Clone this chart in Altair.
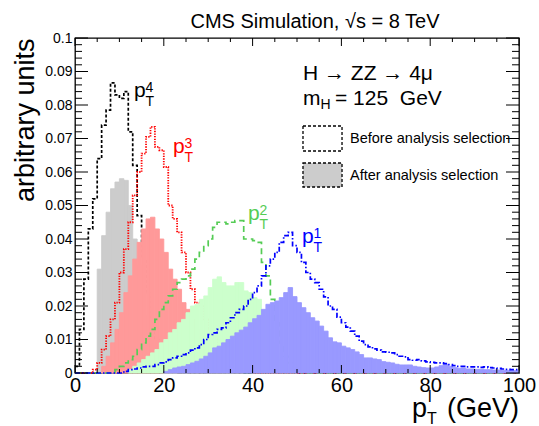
import altair as alt
import pandas as pd

FONT = "Liberation Sans"
N_BINS = 100          # 1 GeV bins from 0 to 100 GeV
X_MAX = 100.0

# ---------------- histogram contents (first non-empty bin, values) ----------------
pt4_before_first = 0
pt4_before = [0.002, 0.013, 0.028, 0.043, 0.052, 0.064, 0.074, 0.0785, 0.0866, 0.083,
              0.082, 0.084, 0.072, 0.062, 0.047, 0.034, 0.024, 0.016, 0.010, 0.006,
              0.004, 0.002, 0.001]
pt4_after_first = 5
pt4_after = [0.031, 0.041, 0.048, 0.055, 0.057, 0.058, 0.0575, 0.050, 0.040, 0.032,
             0.024, 0.017, 0.011, 0.007, 0.004, 0.003, 0.002, 0.001]

pt3_before_first = 4
pt3_before = [0.001, 0.003, 0.007, 0.011, 0.016, 0.021, 0.030, 0.037, 0.045, 0.053,
              0.060, 0.0655, 0.0705, 0.0735, 0.0675, 0.0665, 0.0615,
              0.050, 0.046, 0.042, 0.036, 0.030, 0.025, 0.021, 0.020,
              0.016, 0.013, 0.010, 0.008, 0.006, 0.005, 0.004, 0.003, 0.002, 0.0015, 0.001]
pt3_after_first = 6
pt3_after = [0.002, 0.005, 0.009, 0.013, 0.018, 0.024, 0.029, 0.034, 0.039, 0.043,
             0.046, 0.0465, 0.043, 0.040, 0.036, 0.031, 0.028, 0.025, 0.021, 0.019,
             0.016, 0.013, 0.011, 0.009, 0.007, 0.006, 0.005, 0.004, 0.003, 0.002,
             0.0015, 0.001]

pt2_before_first = 9
pt2_before = [0.001, 0.002, 0.003, 0.004, 0.005, 0.007, 0.009, 0.011, 0.013, 0.016,
              0.019, 0.021, 0.023, 0.025, 0.027, 0.028, 0.029, 0.031, 0.034, 0.036,
              0.038, 0.040, 0.0435, 0.045, 0.045, 0.0445, 0.045, 0.0455, 0.0455,
              0.040, 0.040, 0.0395, 0.039, 0.033, 0.029, 0.022, 0.015, 0.009, 0.005,
              0.003, 0.002, 0.001]
pt2_after_first = 12
pt2_after = [0.001, 0.002, 0.003, 0.004, 0.005, 0.006, 0.007, 0.009, 0.010,
             0.012, 0.013, 0.015, 0.016, 0.018, 0.020, 0.0205, 0.022, 0.023, 0.0255,
             0.028, 0.0287, 0.027, 0.026, 0.026, 0.027, 0.027, 0.0245, 0.024, 0.0225,
             0.022, 0.017, 0.013, 0.009, 0.006, 0.004, 0.003, 0.002, 0.001]

pt1_before_first = 11
pt1_before = [0.0005, 0.001, 0.0012, 0.0015, 0.0018, 0.002, 0.002, 0.0025, 0.003, 0.0033,
              0.004, 0.0045, 0.005, 0.0055, 0.006, 0.0068, 0.0075, 0.0085, 0.010, 0.0115,
              0.012, 0.013, 0.0135, 0.015, 0.0165, 0.018, 0.019, 0.020, 0.022, 0.024,
              0.026, 0.029, 0.032, 0.034, 0.036, 0.039, 0.041, 0.042, 0.038, 0.036,
              0.033, 0.030, 0.028, 0.027, 0.025, 0.0227, 0.020, 0.019, 0.0167, 0.015,
              0.0137, 0.0125, 0.011, 0.0095, 0.0085, 0.0078, 0.0072, 0.0068, 0.0063, 0.0062,
              0.006, 0.0055, 0.005, 0.0048, 0.004, 0.0038, 0.004, 0.0036, 0.0033, 0.0032,
              0.003, 0.003, 0.0028, 0.0025, 0.0022, 0.002, 0.002, 0.0018, 0.0018, 0.0018,
              0.0017, 0.0018, 0.0016, 0.0015, 0.0014, 0.0012, 0.0011, 0.001, 0.001]
pt1_after_first = 20
pt1_after = [0.0005, 0.001, 0.0015, 0.0018, 0.002, 0.0025, 0.003, 0.0035, 0.0042, 0.005,
             0.006, 0.0075, 0.008, 0.009, 0.010, 0.011, 0.012, 0.0128, 0.0137, 0.015,
             0.0162, 0.0172, 0.019, 0.0205, 0.021, 0.0215, 0.0225, 0.024, 0.0255, 0.0228,
             0.021, 0.0195, 0.018, 0.0165, 0.0155, 0.014, 0.0125, 0.0105, 0.0093, 0.009,
             0.008, 0.0075, 0.007, 0.0063, 0.0055, 0.0045, 0.0045, 0.0042, 0.004, 0.0034,
             0.0032, 0.003, 0.0026, 0.0024, 0.0024, 0.0024, 0.002, 0.0018, 0.0016, 0.0015,
             0.0015, 0.0018, 0.0022, 0.0025, 0.002, 0.0016, 0.0014, 0.0015, 0.0012, 0.0012,
             0.0011, 0.0011, 0.001, 0.001, 0.0009, 0.0009, 0.0008, 0.0008, 0.0007, 0.0007]

# ---------------- axis ticks / labels ----------------
x_label_values = [0, 20, 40, 60, 80, 100]
x_minor_values = [5, 10, 15, 25, 30, 35, 45, 50, 55, 65, 70, 75, 85, 90, 95]
y_label_values = [0, 0.01, 0.02, 0.03, 0.04, 0.05, 0.06, 0.07, 0.08, 0.09, 0.1]
y_minor_values = [round(m * 0.002, 3) for m in range(51) if m % 5 != 0]

# ---------------- tables ----------------
series_defs = [
    ("pt4_before", pt4_before_first, pt4_before),
    ("pt4_after", pt4_after_first, pt4_after),
    ("pt3_before", pt3_before_first, pt3_before),
    ("pt3_after", pt3_after_first, pt3_after),
    ("pt2_before", pt2_before_first, pt2_before),
    ("pt2_after", pt2_after_first, pt2_after),
    ("pt1_before", pt1_before_first, pt1_before),
    ("pt1_after", pt1_after_first, pt1_after),
]
bw = X_MAX / N_BINS
outline_rows, bin_rows = [], []
for name, first, vals in series_defs:
    arr = [0.0] * N_BINS
    for i, v in enumerate(vals):
        arr[first + i] = v
    k = 0
    for i in range(N_BINS):
        outline_rows.append({"series": name, "k": k, "x": i * bw, "y": arr[i]}); k += 1
        outline_rows.append({"series": name, "k": k, "x": (i + 1) * bw, "y": arr[i]}); k += 1
        if arr[i] > 0:
            bin_rows.append({"series": name, "x": i * bw, "x2": (i + 1) * bw, "y": arr[i]})
outline = pd.DataFrame(outline_rows)
bins = pd.DataFrame(bin_rows)

W, H = 444, 335

x_axis = alt.Axis(values=x_label_values, ticks=False, domain=False, grid=False,
                  labelFontSize=20, labelPadding=2, labelFlush=False, title=None)
y_axis = alt.Axis(values=y_label_values, labelExpr="format(datum.value, '.2~f')",
                  ticks=False, domain=False, grid=False, labelFontSize=14, labelPadding=3,
                  title="arbitrary units", titleFontSize=27, titleFontWeight="normal",
                  titleX=-42, titleY=0, titleAlign="right", titleAngle=270,
                  titleBaseline="alphabetic")
x_scale = alt.Scale(domain=[0, 100], nice=False, zero=False)
y_scale = alt.Scale(domain=[0, 0.1], nice=False, zero=False)
x_enc = alt.X("x:Q", scale=x_scale, axis=x_axis)
y_enc = alt.Y("y:Q", scale=y_scale, axis=y_axis)


def fill(name, color):
    return (alt.Chart(bins).transform_filter(alt.datum.series == name)
            .mark_rect(color=color, stroke=color, strokeWidth=0.9, opacity=1)
            .encode(x=x_enc, x2="x2:Q", y=y_enc, y2=alt.datum(0)))


def line(name, color, dash, width=1.6):
    return (alt.Chart(outline).transform_filter(alt.datum.series == name)
            .mark_line(color=color, strokeDash=dash, strokeWidth=width, interpolate="linear")
            .encode(x=x_enc, y=y_enc, order=alt.Order("k:Q")))


BLACK, RED, GREEN, BLUE = "#000000", "#ff0000", "#55cc55", "#0000ff"

layers = [
    fill("pt4_after", "#cccccc"),
    line("pt4_before", BLACK, [3, 2], 1.7),
    fill("pt3_after", "#ff9999"),
    line("pt3_before", RED, [1.3, 1.3], 1.8),
    fill("pt2_after", "#ccffcc"),
    line("pt2_before", GREEN, [6, 4], 1.7),
    fill("pt1_after", "#9999ff"),
    line("pt1_before", BLUE, [5, 2, 1.5, 2], 1.7),
]

# ---------------- tick marks (inside the frame) ----------------
xmaj = pd.DataFrame({"x": x_label_values})
xmin = pd.DataFrame({"x": x_minor_values})
ymaj = pd.DataFrame({"y": y_label_values})
ymin = pd.DataFrame({"y": y_minor_values})
tk = dict(color="black", strokeWidth=1)
layers += [
    alt.Chart(xmaj).mark_rule(**tk).encode(x=x_enc, y=alt.value(0), y2=alt.value(8)),
    alt.Chart(xmaj).mark_rule(**tk).encode(x=x_enc, y=alt.value(H), y2=alt.value(H - 8)),
    alt.Chart(xmin).mark_rule(**tk).encode(x=x_enc, y=alt.value(0), y2=alt.value(4)),
    alt.Chart(xmin).mark_rule(**tk).encode(x=x_enc, y=alt.value(H), y2=alt.value(H - 4)),
    alt.Chart(ymaj).mark_rule(**tk).encode(y=y_enc, x=alt.value(0), x2=alt.value(13)),
    alt.Chart(ymaj).mark_rule(**tk).encode(y=y_enc, x=alt.value(W), x2=alt.value(W - 13)),
    alt.Chart(ymin).mark_rule(**tk).encode(y=y_enc, x=alt.value(0), x2=alt.value(7)),
    alt.Chart(ymin).mark_rule(**tk).encode(y=y_enc, x=alt.value(W), x2=alt.value(W - 7)),
]

# ---------------- legend ----------------
legend_boxes = pd.DataFrame({
    "x": [51.35, 51.35], "x2": [60.14, 60.14],
    "y": [0.07373, 0.06269], "y2": [0.06627, 0.05552],
    "fill": ["#ffffff", "#cccccc"],
})
layers.append(
    alt.Chart(legend_boxes).mark_rect(stroke="black", strokeDash=[3, 2], strokeWidth=1.3)
    .encode(x=x_enc, x2="x2:Q", y=y_enc, y2="y2:Q", fill=alt.Fill("fill:N", scale=None))
)
legend_text = pd.DataFrame({"x": [61.94, 61.94], "y": [0.06866, 0.05761],
                            "t": ["Before analysis selection", "After analysis selection"]})
layers.append(
    alt.Chart(legend_text).mark_text(font=FONT, fontSize=14.5, align="left",
                                     baseline="alphabetic", color="black")
    .encode(x=x_enc, y=y_enc, text="t:N")
)

# ---------------- in-plot annotations ----------------
p_labels = pd.DataFrame({
    "x": [13.29, 22.07, 38.96, 51.13],
    "y": [0.08239, 0.06567, 0.04567, 0.03881],
    "sup": ["4", "3", "2", "1"],
    "color": [BLACK, RED, GREEN, BLUE],
})
layers += [
    alt.Chart(p_labels).mark_text(font=FONT, fontSize=21, align="left", baseline="alphabetic")
    .encode(x=x_enc, y=y_enc, text=alt.value("p"), color=alt.Color("color:N", scale=None)),
    alt.Chart(p_labels).mark_text(font=FONT, fontSize=14, align="left", baseline="alphabetic",
                                  dx=11.5, dy=-5)
    .encode(x=x_enc, y=y_enc, text="sup:N", color=alt.Color("color:N", scale=None)),
    alt.Chart(p_labels).mark_text(font=FONT, fontSize=14, align="left", baseline="alphabetic",
                                  dx=11.5, dy=9)
    .encode(x=x_enc, y=y_enc, text=alt.value("T"), color=alt.Color("color:N", scale=None)),
]

info = pd.DataFrame({"x": [51.35, 51.35], "y": [0.08746, 0.0800],
                     "t": ["H \u2192 ZZ \u2192 4\u03bc", "m"]})
mh = pd.DataFrame({"x": [51.35], "y": [0.0800], "sub": ["H"],
                   "rest": ["= 125\u00a0\u00a0GeV"]})
layers += [
    alt.Chart(info).mark_text(font=FONT, fontSize=21, align="left", baseline="alphabetic",
                              color="black")
    .encode(x=x_enc, y=y_enc, text="t:N"),
    alt.Chart(mh).mark_text(font=FONT, fontSize=14, align="left", baseline="alphabetic",
                            color="black", dx=17.5, dy=4)
    .encode(x=x_enc, y=y_enc, text="sub:N"),
    alt.Chart(mh).mark_text(font=FONT, fontSize=21, align="left", baseline="alphabetic",
                            color="black", dx=32)
    .encode(x=x_enc, y=y_enc, text="rest:N"),
]

# ---------------- title and x-axis title (outside the frame) ----------------
one = pd.DataFrame({"k": [0]})
layers += [
    alt.Chart(one).mark_text(font=FONT, fontSize=20, align="center", baseline="alphabetic",
                             color="black")
    .encode(x=alt.value(240), y=alt.value(-10), text=alt.value("CMS Simulation, \u221as = 8 TeV")),
    alt.Chart(one).mark_text(font=FONT, fontSize=27, align="left", baseline="alphabetic",
                             color="black")
    .encode(x=alt.value(337), y=alt.value(379), text=alt.value("p")),
    alt.Chart(one).mark_text(font=FONT, fontSize=16, align="left", baseline="alphabetic",
                             color="black")
    .encode(x=alt.value(353), y=alt.value(364), text=alt.value("l")),
    alt.Chart(one).mark_text(font=FONT, fontSize=16, align="left", baseline="alphabetic",
                             color="black")
    .encode(x=alt.value(352), y=alt.value(386), text=alt.value("T")),
    alt.Chart(one).mark_text(font=FONT, fontSize=27, align="right", baseline="alphabetic",
                             color="black")
    .encode(x=alt.value(W), y=alt.value(379), text=alt.value("(GeV)")),
]

chart = (
    alt.layer(*layers)
    .properties(width=W, height=H, autosize=alt.AutoSizeParams(type="none"),
                padding={"left": 75, "top": 38, "right": 20, "bottom": 53},
                background="white")
    .configure_view(stroke="black", strokeWidth=1.3)
    .configure_axis(labelFont=FONT, titleFont=FONT, labelColor="black", titleColor="black")
)

chart.save("out.html", embed_options={"renderer": "svg", "actions": False})
